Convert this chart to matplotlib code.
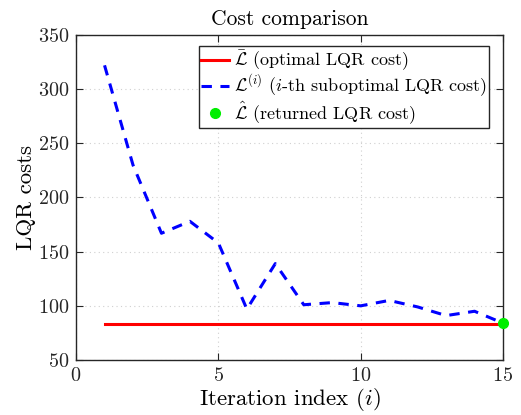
import numpy as np
import matplotlib
matplotlib.use('Agg')
import matplotlib.pyplot as plt

plt.rcParams['font.family'] = 'serif'
plt.rcParams['font.serif'] = ['cmr10']
plt.rcParams['mathtext.fontset'] = 'cm'
plt.rcParams['axes.formatter.use_mathtext'] = True

# data
iters = np.arange(1, 16)
subopt_cost = [322, 230, 167, 178, 158, 97, 139, 101, 103, 100, 105, 99, 91, 95, 84]
optimal_cost = 83.2
returned_iter = 15
returned_cost = 84

fig = plt.figure(figsize=(5.21, 4.15), dpi=100)
ax = fig.add_axes([0.146, 0.1325, 0.8195, 0.7832])

ax.plot([iters[0], iters[-1]], [optimal_cost, optimal_cost], color='red', lw=2.2,
        label=r'$\bar{\mathcal{L}}$ (optimal LQR cost)', zorder=3)
ax.plot(iters, subopt_cost, color='blue', lw=2.2, dashes=(3.4, 2.8),
        label=r'$\mathcal{L}^{(i)}$ ($i$-th suboptimal LQR cost)', zorder=3)
ax.plot([returned_iter], [returned_cost], 'o', color='#00ee00', ms=7, clip_on=False,
        label=r'$\hat{\mathcal{L}}$ (returned LQR cost)', zorder=4)

ax.set_xlim(0, 15)
ax.set_ylim(50, 350)
ax.set_xticks([0, 5, 10, 15])
ax.set_yticks(np.arange(50, 351, 50))
ax.grid(True, linestyle=(0, (1, 3)), color='#d0d0d0', lw=0.8)
ax.tick_params(direction='in', top=True, right=True, length=5, labelsize=14.5,
               colors='#262626', pad=5)
for s in ax.spines.values():
    s.set_color('#262626')
    s.set_linewidth(1.0)

ax.set_title('Cost comparison', fontsize=15.5, pad=7)
ax.set_xlabel('Iteration index ($i$)', fontsize=16.5, labelpad=1)
ax.set_ylabel('LQR costs', fontsize=16.5, labelpad=1)

leg = ax.legend(loc='upper right', bbox_to_anchor=(0.968, 0.965), fontsize=13,
                fancybox=False, framealpha=1, edgecolor='#262626',
                handlelength=1.55, handletextpad=0.3, borderpad=0.1,
                labelspacing=0.0, borderaxespad=0)
leg.get_frame().set_linewidth(1.0)

fig.savefig('out.png', dpi=100)
